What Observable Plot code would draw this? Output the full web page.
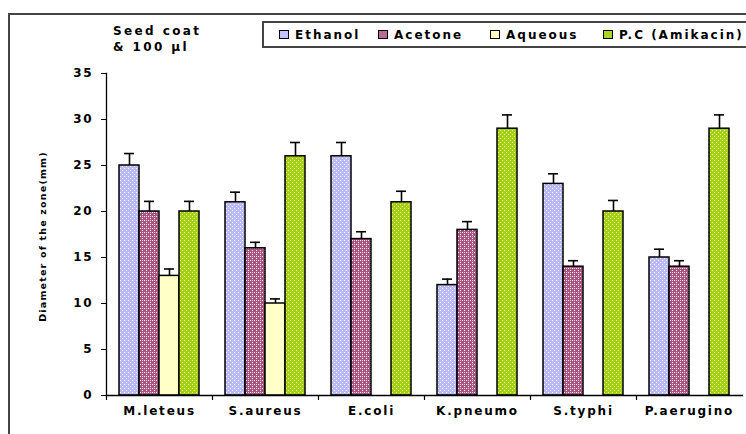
<!DOCTYPE html>
<html>
<head>
<meta charset="utf-8">
<script src="https://cdn.jsdelivr.net/npm/d3@7"></script>
<script src="https://cdn.jsdelivr.net/npm/@observablehq/plot@0.6"></script>
<style>
  body { margin: 0; background: #fff; }
  #wrap { position: relative; width: 746px; height: 434px; overflow: hidden;
          font-family: "DejaVu Sans", sans-serif; font-weight: bold; color: #000; }
  #chart { position: absolute; left: 0; top: 0; }
  #chart svg text { letter-spacing: 1.8px; }
  #chart svg g[aria-label="text"] text { letter-spacing: 1.2px; }
  .border { position: absolute; left: 8px; top: 13px; width: 900px; height: 600px;
            border-left: 2px solid #444; border-top: 2px solid #444; }
  #title { position: absolute; left: 113px; top: 23px; font-size: 12px; line-height: 16px;
           letter-spacing: 2.4px; white-space: pre; }
  #legend { position: absolute; left: 262px; top: 21px; width: 700px; height: 23px;
            border: 2px solid #444; font-size: 12px; letter-spacing: 2px; }
  .item { position: absolute; top: 0; height: 23px; display: flex; align-items: center; white-space: nowrap; }
  .sw { width: 8px; height: 7px; border: 1px solid #000; margin-right: 6px; }
</style>
</head>
<body>
<div id="wrap">
  <div id="chart"></div>
  <div class="border"></div>
  <div id="title"></div>
  <div id="legend"></div>
</div>
<script>
// Zone of inhibition by extract, per organism
const categories = ["M.leteus", "S.aureus", "E.coli", "K.pneumo", "S.typhi", "P.aerugino"];
const seriesNames = ["Ethanol", "Acetone", "Aqueous", "P.C (Amikacin)"];

const ethanol  = [25, 21, 26, 12, 23, 15];
const acetone  = [20, 16, 17, 18, 14, 14];
const aqueous  = [13, 10, 0, null, null, null];
const amikacin = [20, 26, 21, 29, 20, 29];

const ethanolErr  = [1.3, 1.1, 1.5, 0.65, 1.1, 0.9];
const acetoneErr  = [1.1, 0.65, 0.8, 0.9, 0.65, 0.65];
const aqueousErr  = [0.75, 0.5, 0, null, null, null];
const amikacinErr = [1.1, 1.5, 1.2, 1.5, 1.2, 1.5];

const yTicks = [0, 5, 10, 15, 20, 25, 30, 35];
const titleLines = ["Seed coat", "& 100 µl"];
const yLabel = "Diameter of the zone(mm)";

// Long-format rows for the grouped bars
const valuesBySeries = [ethanol, acetone, aqueous, amikacin];
const errBySeries = [ethanolErr, acetoneErr, aqueousErr, amikacinErr];
const rows = [];
seriesNames.forEach((s, j) => {
  categories.forEach((c, i) => {
    rows.push({cat: c, series: s, value: valuesBySeries[j][i], err: errBySeries[j][i]});
  });
});
const barRows = rows.filter(d => d.value != null);
const errRows = rows.filter(d => d.value != null && d.err > 0);

// Dotted textures for each series
const fills = {
  "Ethanol": "url(#p-eth)",
  "Acetone": "url(#p-ace)",
  "Aqueous": "url(#p-aq)",
  "P.C (Amikacin)": "url(#p-pc)"
};
const swatchColors = {
  "Ethanol": "#c4c4fa",
  "Acetone": "#b86c96",
  "Aqueous": "#ffffc8",
  "P.C (Amikacin)": "#acd428"
};

// Short downward tick at the left edge of each category band
const tickShape = {
  draw(context, l) { context.moveTo(0, 0); context.lineTo(0, -l); }
};

const chart = Plot.plot({
  width: 746,
  height: 434,
  marginLeft: 106,
  marginRight: 4,
  marginTop: 73,
  marginBottom: 39,
  fx: {domain: categories, padding: 0, label: null},
  x: {domain: seriesNames, paddingInner: 0, paddingOuter: 0.65, axis: null},
  y: {domain: [0, 35]},
  color: {type: "identity"},
  style: {fontFamily: "DejaVu Sans, sans-serif", fontSize: "12px", fontWeight: "bold", color: "#000", background: "transparent"},
  marks: [
    Plot.barY(barRows, {fx: "cat", x: "series", y: "value", fill: d => fills[d.series], stroke: "#000", strokeWidth: 1.5}),
    Plot.ruleX(errRows, {fx: "cat", x: "series", y1: "value", y2: d => d.value + d.err, stroke: "#000", strokeWidth: 1.6}),
    Plot.tickY(errRows, {fx: "cat", x: "series", y: d => d.value + d.err, stroke: "#000", strokeWidth: 1.6, insetLeft: 5, insetRight: 5}),
    Plot.frame({anchor: "bottom", facet: "super", stroke: "#000", strokeWidth: 1.3}),
    Plot.frame({anchor: "left", facet: "super", stroke: "#000", strokeWidth: 1.3}),
    Plot.vector(categories, {fx: d => d, frameAnchor: "bottom-left", length: 4, rotate: 180, anchor: "start", shape: tickShape, stroke: "#000", strokeWidth: 1.2}),
    Plot.axisY({ticks: yTicks, tickSize: 5, tickPadding: 8, label: null, fontSize: 12, fontWeight: "bold"}),
    Plot.axisFx({anchor: "bottom", tickSize: 0, tickPadding: 11, label: null, fontSize: 12, fontWeight: "bold"}),
    Plot.text([yLabel], {facet: "super", frameAnchor: "left", textAnchor: "middle", rotate: -90, dx: -64, dy: 2, fontSize: 9.5, fontWeight: "bold"})
  ]
});

d3.select(chart).insert("defs", ":first-child").html(`
  <pattern id="p-eth" width="4" height="4" patternUnits="userSpaceOnUse">
    <rect width="4" height="4" fill="#babaf8"/>
    <rect x="0" y="0" width="1" height="1" fill="#fff"/>
    <rect x="2" y="2" width="1" height="1" fill="#fff"/>
  </pattern>
  <pattern id="p-ace" width="4" height="4" patternUnits="userSpaceOnUse">
    <rect width="4" height="4" fill="#aa5484"/>
    <rect x="0" y="0" width="1" height="1" fill="#fff"/>
    <rect x="2" y="2" width="1" height="1" fill="#fff"/>
    <rect x="2" y="0" width="1" height="1" fill="#e8c8d8"/>
  </pattern>
  <pattern id="p-aq" width="4" height="4" patternUnits="userSpaceOnUse">
    <rect width="4" height="4" fill="#ffffc8"/>
  </pattern>
  <pattern id="p-pc" width="4" height="4" patternUnits="userSpaceOnUse">
    <rect width="4" height="4" fill="#a4d018"/>
    <rect x="0" y="0" width="1" height="1" fill="#f0f690"/>
    <rect x="2" y="2" width="1" height="1" fill="#f0f690"/>
  </pattern>
`);

document.getElementById("chart").appendChild(chart);

// Title block in the top-left corner
document.getElementById("title").textContent = titleLines.join("\n");

// Legend box along the top
const legendLeft = [15, 114, 226, 339];
const legend = d3.select("#legend");
seriesNames.forEach((s, j) => {
  const item = legend.append("div").attr("class", "item").style("left", legendLeft[j] + "px");
  item.append("div").attr("class", "sw").style("background", swatchColors[s]);
  item.append("span").text(s);
});
</script>
</body>
</html>
